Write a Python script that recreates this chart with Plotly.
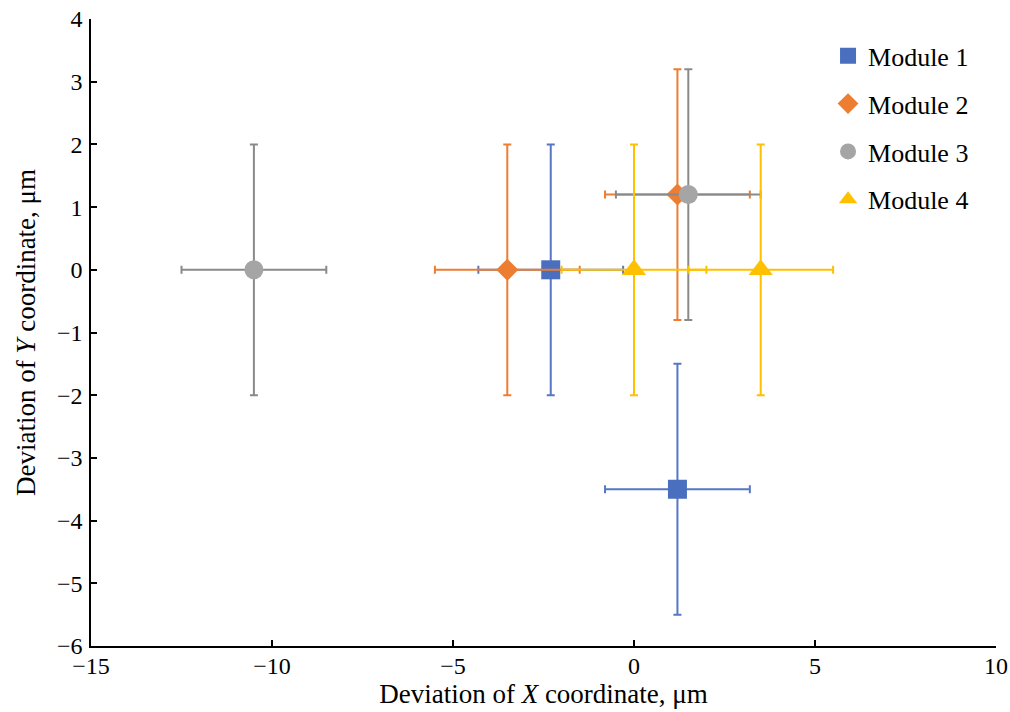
import plotly.graph_objects as go

modules = ["Module 1", "Module 2", "Module 3", "Module 4"]
x_vals = [[-2.3, 1.2], [-3.5, 1.2], [-10.5, 1.5], [0.0, 3.5]]
y_vals = [[0.0, -3.5], [0.0, 1.2], [0.0, 1.2], [0.0, 0.0]]
x_err = [[2, 2], [2, 2], [2, 2], [2, 2]]
y_err = [[2, 2], [2, 2], [2, 2], [2, 2]]
marker_colors = ["#4A6FBE", "#ED7D31", "#A5A5A5", "#FFC000"]
err_colors = ["#5577C4", "#ED7D31", "#8A8A8A", "#FFC000"]
symbols = ["square", "diamond", "circle", "triangle-up"]
sizes = [19, 17, 19, 21]

fig = go.Figure()
for i, name in enumerate(modules):
    fig.add_trace(go.Scatter(
        x=x_vals[i], y=y_vals[i], mode="markers", name=name,
        legendgroup=name,
        marker=dict(symbol=symbols[i], size=sizes[i], color=marker_colors[i],
                    line=dict(width=0)),
        error_x=dict(type="data", array=x_err[i], visible=True,
                     color=err_colors[i], thickness=2, width=4),
        error_y=dict(type="data", array=y_err[i], visible=True,
                     color=err_colors[i], thickness=2, width=4),
    ))

axis_common = dict(
    showgrid=False, zeroline=False, showline=True, linecolor="black",
    linewidth=1.5, ticks="inside", ticklen=6, tickcolor="black", tickwidth=1.5,
    tickfont=dict(family="Liberation Serif", size=24, color="black"),
    mirror=False, automargin=False, ticklabeloverflow="allow",
)

fig.update_layout(
    width=1010, height=712,
    margin=dict(l=91, r=14, t=19, b=66),
    paper_bgcolor="white", plot_bgcolor="white",
    xaxis=dict(range=[-15, 10], dtick=5, tick0=-15, ticklabelstandoff=-3,
               title=dict(text="Deviation of <i>X</i> coordinate, μm",
                          font=dict(family="Liberation Serif", size=27, color="black"),
                          standoff=6),
               **axis_common),
    yaxis=dict(range=[-6, 4], dtick=1, tick0=-6, ticklabelstandoff=2,
               title=dict(text="Deviation of <i>Y</i> coordinate, μm",
                          font=dict(family="Liberation Serif", size=27, color="black"),
                          standoff=13),
               **axis_common),
    legend=dict(x=0.8144, y=0.9786, xanchor="left", yanchor="top",
                font=dict(family="Liberation Serif", size=26, color="black"),
                tracegroupgap=11, bgcolor="rgba(0,0,0,0)", itemwidth=30),
    showlegend=True,
)

fig.write_html("out.html",
               config={"displayModeBar": False},
               post_script="document.body.style.margin='0';document.body.style.overflow='hidden';")
